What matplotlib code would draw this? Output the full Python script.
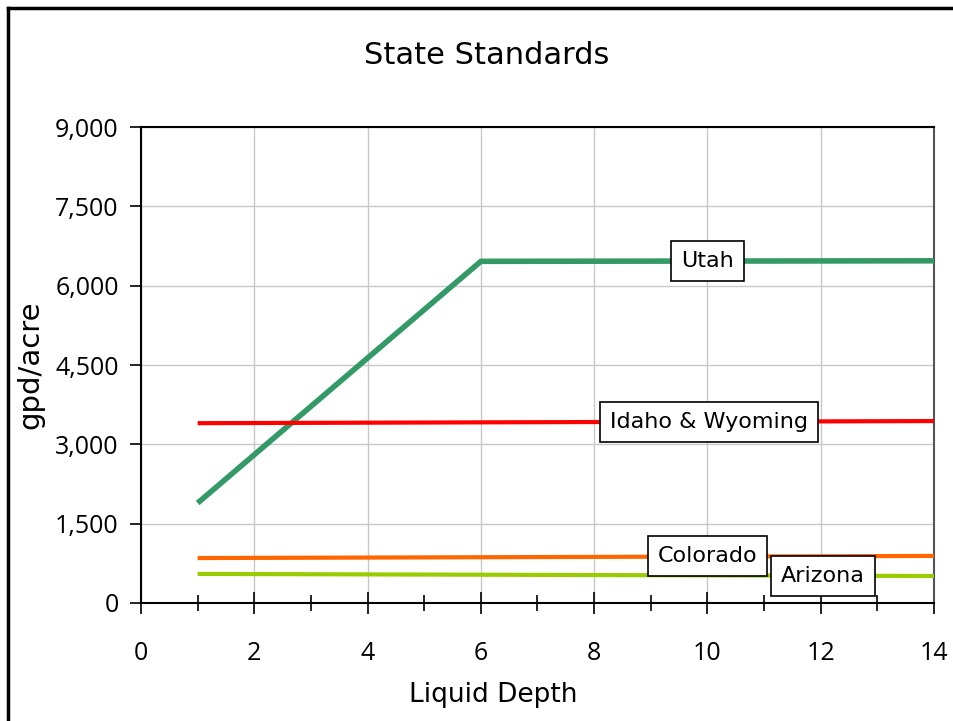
import matplotlib
matplotlib.use("Agg")
import matplotlib.pyplot as plt
from matplotlib.ticker import MultipleLocator, FuncFormatter
from matplotlib.lines import Line2D

# Data
utah_x = [1, 6, 14]
utah_y = [1890, 6460, 6470]
idaho_x = [1, 14]
idaho_y = [3400, 3440]
colorado_x = [1, 14]
colorado_y = [850, 890]
arizona_x = [1, 14]
arizona_y = [550, 510]

x_ticks = [0, 2, 4, 6, 8, 10, 12, 14]
y_ticks = [0, 1500, 3000, 4500, 6000, 7500, 9000]

fig = plt.figure(figsize=(9.54, 7.21), dpi=100)
ax = fig.add_axes([141/954, 1 - 603/721, (934-141)/954, (603-127)/721])

tick_font = "Open Sans"
lab_font = "DejaVu Sans"

ax.plot(utah_x, utah_y, color="#339966", lw=4, solid_capstyle="butt", zorder=3)
ax.plot(idaho_x, idaho_y, color="#ff0000", lw=3, solid_capstyle="butt", zorder=3)
ax.plot(colorado_x, colorado_y, color="#ff6600", lw=3, solid_capstyle="butt", zorder=3)
ax.plot(arizona_x, arizona_y, color="#99cc00", lw=3, solid_capstyle="butt", zorder=3)

ax.set_xlim(0, 14)
ax.set_ylim(0, 9000)
ax.set_xticks(x_ticks)
ax.set_yticks(y_ticks)
ax.xaxis.set_minor_locator(MultipleLocator(1))
ax.yaxis.set_major_formatter(FuncFormatter(lambda v, p: f"{int(v):,}"))
ax.grid(True, which="major", color="#c8c8c8", lw=1, zorder=0)

ax.tick_params(axis="x", which="major", direction="inout", length=16, width=1.2, pad=19)
ax.tick_params(axis="x", which="minor", direction="inout", length=12, width=1.2)
ax.tick_params(axis="y", which="major", direction="out", length=8, width=1.2, pad=8)
for lbl in ax.get_xticklabels() + ax.get_yticklabels():
    lbl.set_fontfamily(tick_font)
    lbl.set_fontsize(18)

for s in ["left", "bottom", "top"]:
    ax.spines[s].set_color("black")
    ax.spines[s].set_linewidth(1.5)
ax.spines["right"].set_color("#555555")
ax.spines["right"].set_linewidth(1.5)

fig.text(487/954, 1 - 55/721, "State Standards", ha="center", va="center",
         fontsize=22, family=lab_font)
fig.text(30/954, 1 - 365/721, "gpd/acre", ha="center", va="center",
         rotation=90, fontsize=21, family=lab_font)
fig.text(493/954, 1 - 695/721, "Liquid Depth", ha="center", va="center",
         fontsize=19, family=lab_font)

box = dict(boxstyle="square,pad=0.45", fc="white", ec="black", lw=1.2)
ax.text(10.0, 6465, "Utah", ha="center", va="center", fontsize=16, family=lab_font, bbox=box, zorder=5)
ax.text(10.03, 3420, "Idaho & Wyoming", ha="center", va="center", fontsize=16, family=lab_font, bbox=box, zorder=5)
ax.text(10.0, 880, "Colorado", ha="center", va="center", fontsize=16, family=lab_font, bbox=box, zorder=5)
ax.text(12.04, 510, "Arizona", ha="center", va="center", fontsize=16, family=lab_font, bbox=box, zorder=5)

# outer frame lines (left and top)
fig.add_artist(Line2D([8/954, 8/954], [0, 1 - 8/721], color="black", lw=2.5, transform=fig.transFigure))
fig.add_artist(Line2D([8/954, 1], [1 - 8/721, 1 - 8/721], color="black", lw=2.5, transform=fig.transFigure))

fig.savefig("out.png", dpi=100)
